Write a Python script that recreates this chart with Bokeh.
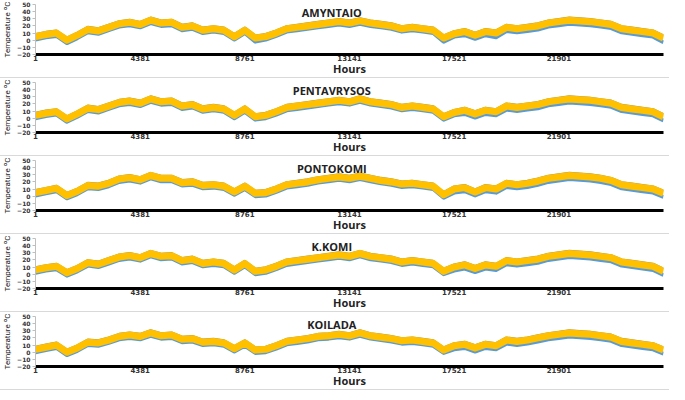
from bokeh.plotting import figure
from bokeh.layouts import column
from bokeh.models import Range1d, FixedTicker, Label
from bokeh.embed import file_html
from bokeh.resources import INLINE

hours = list(range(1, 26282, 438))
stations = ["AMYNTAIO", "PENTAVRYSOS", "PONTOKOMI", "K.KOMI", "KOILADA"]
x_ticks = [1, 4381, 8761, 13141, 17521, 21901]
y_ticks = [-20, -10, 0, 10, 20, 30, 40, 50]

gold_1 = [5, 8, 10, 0, 7, 15, 13, 18, 23, 25, 22, 28, 24, 25, 18, 20, 14, 16, 14, 5,
          14, 3, 5, 10, 16, 18, 20, 22, 24, 26, 24, 27, 24, 22, 20, 16, 18, 16, 14, 3, 9,
          12, 7, 12, 10, 18, 16, 18, 20, 24, 26, 28, 27, 26, 24, 22, 16, 14, 12, 10, 3]
blue_1 = [1, 4, 6, -4, 3, 11, 9, 14, 19, 21, 18, 24, 20, 21, 14, 16, 10, 12, 10, 1,
          10, -2, 1, 6, 12, 14, 16, 18, 20, 22, 20, 23, 20, 18, 16, 12, 14, 12, 10, -2, 5,
          7, 2, 7, 4, 13, 11, 13, 15, 19, 21, 23, 22, 21, 19, 17, 11, 9, 7, 5, -3]
gray_1 = [8, 11, 13, 3, 10, 18, 16, 21, 26, 28, 25, 31, 27, 28, 21, 23, 17, 19, 17, 8,
          17, 6, 8, 13, 19, 21, 23, 25, 27, 29, 27, 30, 27, 25, 23, 19, 21, 19, 17, 6, 12,
          15, 10, 15, 13, 21, 19, 21, 23, 27, 29, 31, 30, 29, 27, 25, 19, 17, 15, 13, 6]

gold_2 = [4, 7, 9, -1, 6, 14, 12, 17, 22, 24, 21, 27, 23, 24, 17, 19, 13, 15, 13, 4,
          13, 2, 4, 9, 15, 17, 19, 21, 23, 25, 23, 27, 23, 21, 19, 15, 17, 15, 13, 2, 8,
          11, 6, 11, 9, 17, 15, 17, 19, 23, 25, 27, 26, 25, 23, 21, 15, 13, 11, 9, 2]
blue_2 = [0, 3, 5, -5, 2, 10, 8, 13, 18, 20, 17, 23, 19, 20, 13, 15, 9, 11, 9, 0,
          9, -2, 0, 5, 11, 13, 15, 17, 19, 21, 19, 23, 19, 17, 15, 11, 13, 11, 9, -2, 4,
          6, 1, 6, 4, 12, 10, 12, 14, 18, 20, 22, 21, 20, 18, 16, 10, 8, 6, 4, -3]
gray_2 = [7, 10, 12, 2, 9, 17, 15, 20, 25, 27, 24, 30, 26, 27, 20, 22, 16, 18, 16, 7,
          16, 5, 7, 12, 18, 20, 22, 24, 26, 28, 26, 30, 26, 24, 22, 18, 20, 18, 16, 5, 11,
          14, 9, 14, 12, 20, 18, 20, 22, 26, 28, 30, 29, 28, 26, 24, 18, 16, 14, 12, 5]

gold_3 = [5, 8, 11, 1, 7, 15, 14, 18, 24, 26, 23, 29, 25, 25, 19, 20, 15, 16, 14, 6,
          14, 4, 5, 10, 16, 18, 20, 23, 25, 27, 25, 28, 25, 22, 20, 17, 18, 16, 14, 2, 10,
          12, 6, 12, 10, 18, 16, 18, 21, 25, 27, 29, 28, 27, 25, 22, 16, 14, 12, 10, 4]
blue_3 = [1, 4, 7, -3, 3, 11, 10, 14, 20, 22, 19, 25, 21, 21, 15, 16, 11, 12, 10, 2,
          10, 0, 1, 6, 12, 14, 16, 19, 21, 23, 21, 24, 21, 18, 16, 13, 14, 12, 10, -2, 5,
          7, 1, 7, 5, 13, 11, 13, 16, 20, 22, 24, 23, 22, 20, 17, 11, 9, 7, 5, -1]
gray_3 = [8, 11, 14, 4, 10, 18, 17, 21, 27, 29, 26, 32, 28, 28, 22, 23, 18, 19, 17, 9,
          17, 7, 8, 13, 19, 21, 23, 26, 28, 30, 28, 31, 28, 25, 23, 20, 21, 19, 17, 5, 13,
          15, 9, 15, 13, 21, 19, 21, 24, 28, 30, 32, 31, 30, 28, 25, 19, 17, 15, 13, 7]

gold_4 = [6, 9, 11, 2, 8, 16, 14, 19, 24, 26, 23, 29, 25, 26, 19, 21, 15, 17, 15, 6,
          15, 4, 6, 11, 17, 19, 21, 23, 25, 27, 25, 29, 25, 23, 21, 17, 19, 17, 15, 4, 10,
          13, 8, 13, 11, 19, 17, 19, 21, 25, 27, 29, 28, 27, 25, 23, 17, 15, 13, 11, 4]
blue_4 = [2, 5, 7, -2, 4, 12, 10, 15, 20, 22, 19, 25, 21, 22, 15, 17, 11, 13, 11, 2,
          11, 0, 2, 7, 13, 15, 17, 19, 21, 23, 21, 25, 21, 19, 17, 13, 15, 13, 11, 0, 5,
          8, 3, 8, 6, 14, 12, 14, 16, 20, 22, 24, 23, 22, 20, 18, 12, 10, 8, 6, -1]
gray_4 = [9, 12, 14, 5, 11, 19, 17, 22, 27, 29, 26, 32, 28, 29, 22, 24, 18, 20, 18, 9,
          18, 7, 9, 14, 20, 22, 24, 26, 28, 30, 28, 32, 28, 26, 24, 20, 22, 20, 18, 7, 13,
          16, 11, 16, 14, 22, 20, 22, 24, 28, 30, 32, 31, 30, 28, 26, 20, 18, 16, 14, 7]

gold_5 = [4, 7, 10, 0, 6, 14, 13, 17, 22, 24, 22, 27, 23, 24, 18, 19, 14, 15, 13, 5,
          13, 3, 4, 9, 15, 17, 19, 22, 23, 25, 23, 27, 23, 21, 19, 16, 17, 15, 13, 3, 9,
          11, 6, 11, 9, 17, 15, 17, 20, 23, 25, 27, 26, 25, 23, 21, 15, 13, 11, 9, 3]
blue_5 = [0, 3, 6, -4, 2, 10, 9, 13, 18, 20, 18, 23, 19, 20, 14, 15, 10, 11, 9, 1,
          9, -1, 0, 5, 11, 13, 15, 18, 19, 21, 19, 23, 19, 17, 15, 12, 13, 11, 9, -1, 4,
          6, 1, 6, 4, 12, 10, 12, 15, 18, 20, 22, 21, 20, 18, 16, 10, 8, 6, 4, -2]
gray_5 = [7, 10, 13, 3, 9, 17, 16, 20, 25, 27, 25, 30, 26, 27, 21, 22, 17, 18, 16, 8,
          16, 6, 7, 12, 18, 20, 22, 25, 26, 28, 26, 30, 26, 24, 22, 19, 20, 18, 16, 6, 12,
          14, 9, 14, 12, 20, 18, 20, 23, 26, 28, 30, 29, 28, 26, 24, 18, 16, 14, 12, 6]

blue_series = [blue_1, blue_2, blue_3, blue_4, blue_5]
gray_series = [gray_1, gray_2, gray_3, gray_4, gray_5]
gold_series = [gold_1, gold_2, gold_3, gold_4, gold_5]

BLUE = "#5b9bd5"
GRAY = "#a3906e"
GOLD = "#ffc000"


def panel(name, blue, gray, gold):
    p = figure(width=669, height=78, output_backend="svg", toolbar_location=None,
               x_range=Range1d(1, 26281), y_range=Range1d(-20, 50),
               min_border_left=30, min_border_right=6, min_border_top=4,
               min_border_bottom=0, outline_line_color=None,
               background_fill_color="white", border_fill_color="white",
               styles={"border-bottom": "1px solid #d9d9d9"})
    p.grid.visible = False

    p.line(hours, blue, color=BLUE, line_width=4, line_join="round")
    p.line(hours, gray, color=GRAY, line_width=3, line_join="round")
    p.line(hours, gold, color=GOLD, line_width=7, line_join="round")

    xa = p.xaxis[0]
    xa.ticker = FixedTicker(ticks=x_ticks)
    xa.axis_line_color = "black"
    xa.axis_line_width = 3
    xa.major_tick_out = 0
    xa.major_tick_in = 0
    xa.minor_tick_out = 0
    xa.minor_tick_in = 0
    xa.major_label_standoff = 0
    xa.major_label_text_font = "DejaVu Sans"
    xa.major_label_text_font_style = "bold"
    xa.major_label_text_font_size = "7px"
    xa.major_label_text_color = "#333333"
    xa.axis_label = "Hours"
    xa.axis_label_standoff = -3
    xa.axis_label_text_font = "Open Sans"
    xa.axis_label_text_font_style = "bold"
    xa.axis_label_text_font_size = "11px"
    xa.axis_label_text_color = "#222222"

    ya = p.yaxis[0]
    ya.ticker = FixedTicker(ticks=y_ticks)
    ya.axis_line_color = "#bfbfbf"
    ya.major_tick_line_color = "#bfbfbf"
    ya.major_tick_out = 3
    ya.major_tick_in = 0
    ya.minor_tick_out = 0
    ya.minor_tick_in = 0
    ya.major_label_standoff = 2
    ya.major_label_text_font = "DejaVu Sans"
    ya.major_label_text_font_style = "bold"
    ya.major_label_text_font_size = "6px"
    ya.major_label_text_color = "#333333"
    ya.axis_label = "Temperature ºC"
    ya.axis_label_standoff = 2
    ya.axis_label_text_font = "Roboto"
    ya.axis_label_text_font_style = "normal"
    ya.axis_label_text_font_size = "8px"
    ya.axis_label_text_color = "#222222"

    p.add_layout(Label(x=12400, y=50, text=name, text_align="center",
                       text_baseline="top", text_font="Open Sans",
                       text_font_style="bold", text_font_size="11px",
                       text_color="#222222"))
    return p


panels = [panel(n, b, g, o) for n, b, g, o in
          zip(stations, blue_series, gray_series, gold_series)]
layout = column(*panels, spacing=0)

open("out.html", "w").write(file_html(layout, INLINE))
